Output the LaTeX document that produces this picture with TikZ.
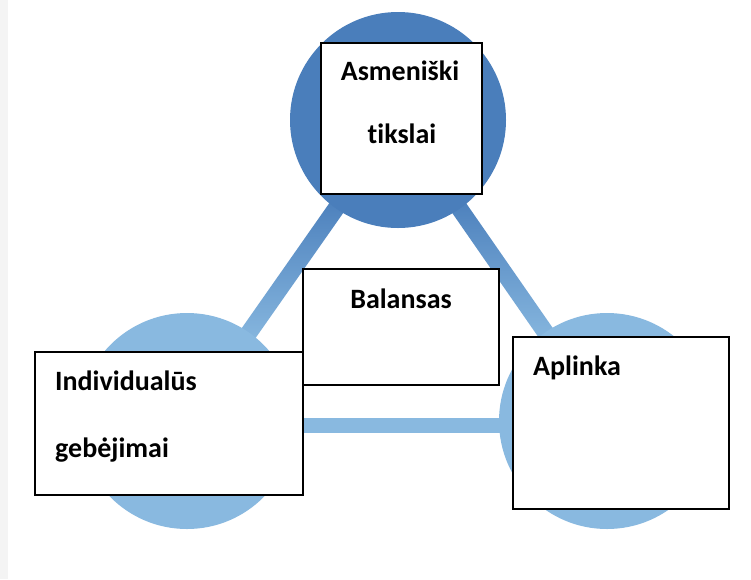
\documentclass[tikz,border=0pt]{standalone}
\usepackage{fontspec}
\setmainfont{Carlito}[Ligatures=NoCommon]
\usetikzlibrary{calc,backgrounds}
\definecolor{darkblue}{RGB}{74,126,187}
\definecolor{lightblue}{RGB}{137,185,224}
\definecolor{stripgray}{RGB}{244,244,244}

\begin{document}
\begin{tikzpicture}[x=1pt,y=-1pt,
	ball/.style={circle,minimum size=216pt,inner sep=0pt},
	box/.style={draw=black,line width=1.4pt,fill=white,inner sep=0pt},
	lbl/.style={font=\fontsize{28}{34}\selectfont\bfseries,inner sep=0pt}]
	\useasboundingbox (0,0) rectangle (751,579);
	% circles
	\node[ball,fill=darkblue] (goal) at (398,120) {};
	\node[ball,fill=lightblue] (skill) at (187,421) {};
	\node[ball,fill=lightblue] (env) at (607,421) {};
	% page and connectors behind the circles
	\begin{scope}[on background layer]
	\fill[white] (0,0) rectangle (751,579);
	\fill[stripgray] (0,0) rectangle (8,579);
	\coordinate (gs) at ($(goal)!95pt!(skill)$);
	\coordinate (sg) at ($(skill)!95pt!(goal)$);
	\coordinate (ge) at ($(goal)!95pt!(env)$);
	\coordinate (eg) at ($(env)!95pt!(goal)$);
	\shade[top color=darkblue,bottom color=lightblue] ($(gs)!8.5pt!90:(sg)$) -- ($(gs)!8.5pt!-90:(sg)$) -- ($(sg)!8.5pt!90:(gs)$) -- ($(sg)!8.5pt!-90:(gs)$) -- cycle;
	\shade[top color=darkblue,bottom color=lightblue] ($(ge)!8.5pt!90:(eg)$) -- ($(ge)!8.5pt!-90:(eg)$) -- ($(eg)!8.5pt!90:(ge)$) -- ($(eg)!8.5pt!-90:(ge)$) -- cycle;
	\draw[lightblue,line width=15pt] ([yshift=-4pt]skill.center) -- ([yshift=-4pt]env.center);
	\end{scope}
	% boxes
	\node[box,minimum width=161pt,minimum height=151pt] (goalbox) at (401.5,118.5) {};
	\node[box,minimum width=196pt,minimum height=116pt] (balbox) at (401,327) {};
	\node[box,minimum width=268pt,minimum height=143pt] (skillbox) at (169,423.5) {};
	\node[box,minimum width=216pt,minimum height=172pt] (envbox) at (621,423) {};
	% texts
	\node[lbl,anchor=base] (goal1) at (400,80) {Asmeniški};
	\node[lbl,anchor=base] (goal2) at (402,143) {tikslai};
	\node[lbl,anchor=base] (bal) at (401,308) {Balansas};
	\node[lbl,anchor=base west] (skill1) at (55,390) {Individualūs};
	\node[lbl,anchor=base west] (skill2) at (55,457) {gebėjimai};
	\node[lbl,anchor=base west] (env1) at (533,375) {Aplinka};
\end{tikzpicture}
\end{document}
